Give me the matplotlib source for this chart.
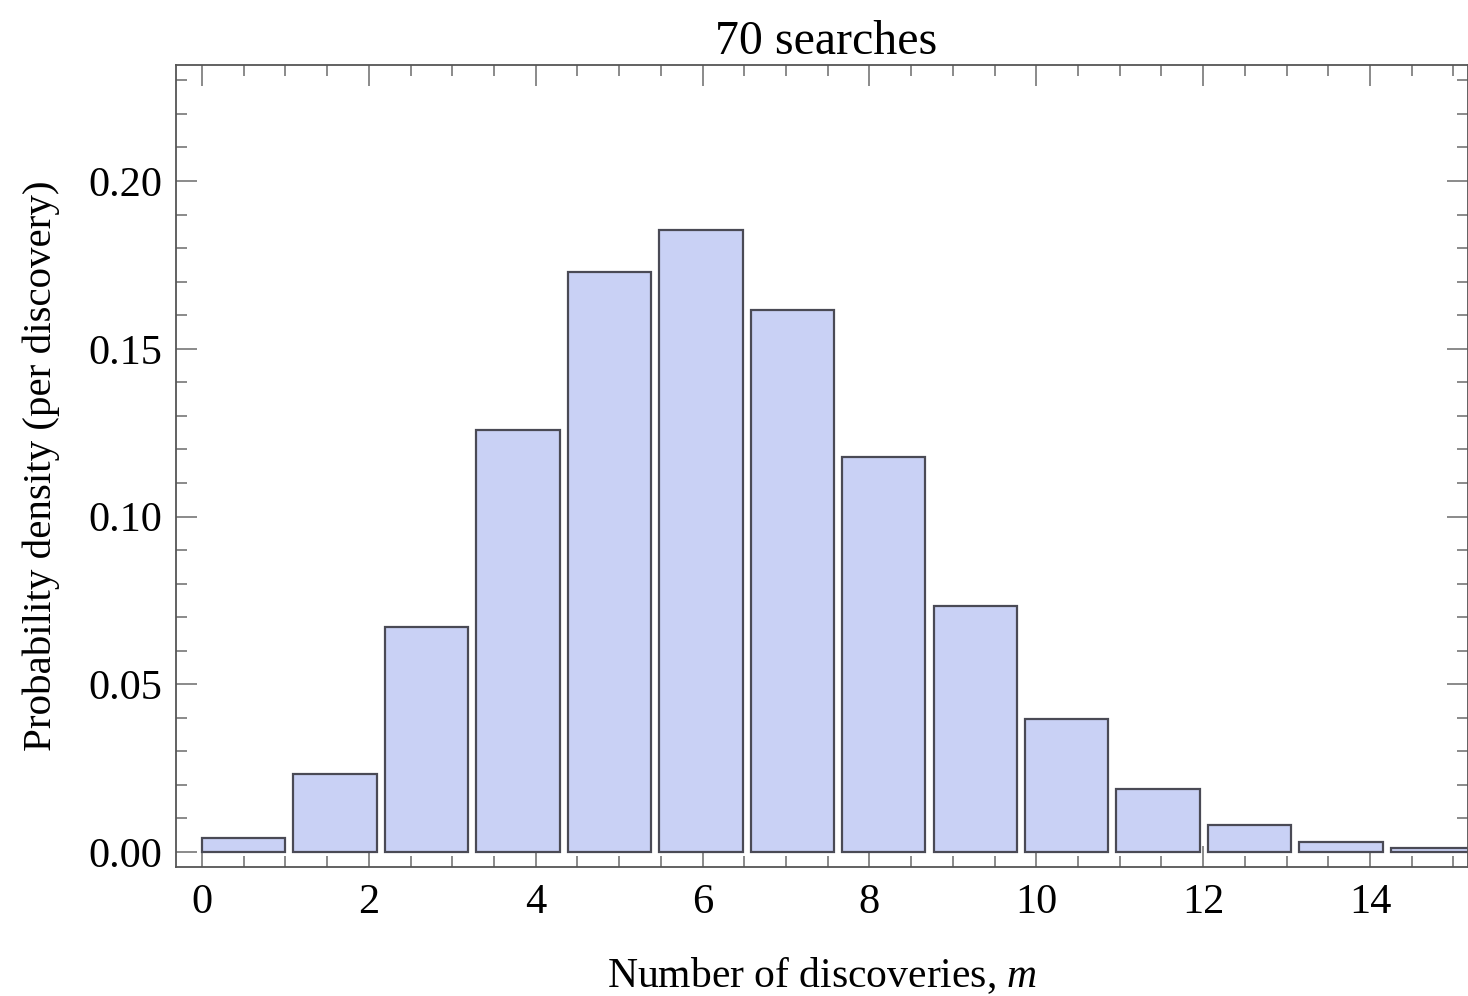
import numpy as np
import matplotlib.pyplot as plt
from matplotlib.ticker import MultipleLocator, FormatStrFormatter

plt.rcParams['font.family'] = ['Liberation Serif', 'DejaVu Serif']
plt.rcParams['mathtext.fontset'] = 'custom'
plt.rcParams['mathtext.it'] = 'Liberation Serif:italic'
plt.rcParams['mathtext.rm'] = 'Liberation Serif'

# histogram of discoveries after 70 searches
bin_left = [0.0, 1.096, 2.192, 3.288, 4.384, 5.48, 6.576, 7.672, 8.768, 9.864,
            10.96, 12.056, 13.152, 14.248]
density = [0.0042, 0.0232, 0.0671, 0.1258, 0.1729, 0.1854, 0.1615, 0.1177,
           0.0733, 0.0396, 0.0188, 0.0080, 0.0030, 0.0012]
bar_width = 1.0

fig = plt.figure(figsize=(14.68, 9.96), dpi=100)
ax = fig.add_axes([0.1199, 0.1295, 0.8801, 0.8053])

ax.bar(bin_left, density, width=bar_width, align='edge',
       color='#c9d1f5', edgecolor='#4a4a55', linewidth=1.6, zorder=2)

ax.set_xlim(-0.312, 15.175)
ax.set_ylim(-0.00447, 0.2346)

ax.xaxis.set_major_locator(MultipleLocator(2))
ax.xaxis.set_minor_locator(MultipleLocator(0.5))
ax.yaxis.set_major_locator(MultipleLocator(0.05))
ax.yaxis.set_minor_locator(MultipleLocator(0.01))
ax.yaxis.set_major_formatter(FormatStrFormatter('%.2f'))

ax.tick_params(which='both', direction='in', top=True, right=True,
               color='#777777', width=1.2, labelsize=30.5, pad=10)
ax.tick_params(which='major', length=15)
ax.tick_params(which='minor', length=8)
ax.tick_params(axis='x', which='major', pad=12)
for s in ax.spines.values():
    s.set_color('#555555')
    s.set_linewidth(1.3)

ax.set_title('70 searches', fontsize=34.5, pad=8, x=0.503)
ax.set_xlabel('Number of discoveries, $m$', fontsize=30, labelpad=24)
ax.set_ylabel('Probability density (per discovery)', fontsize=29.5, labelpad=20)

fig.savefig('out.png', dpi=100)
